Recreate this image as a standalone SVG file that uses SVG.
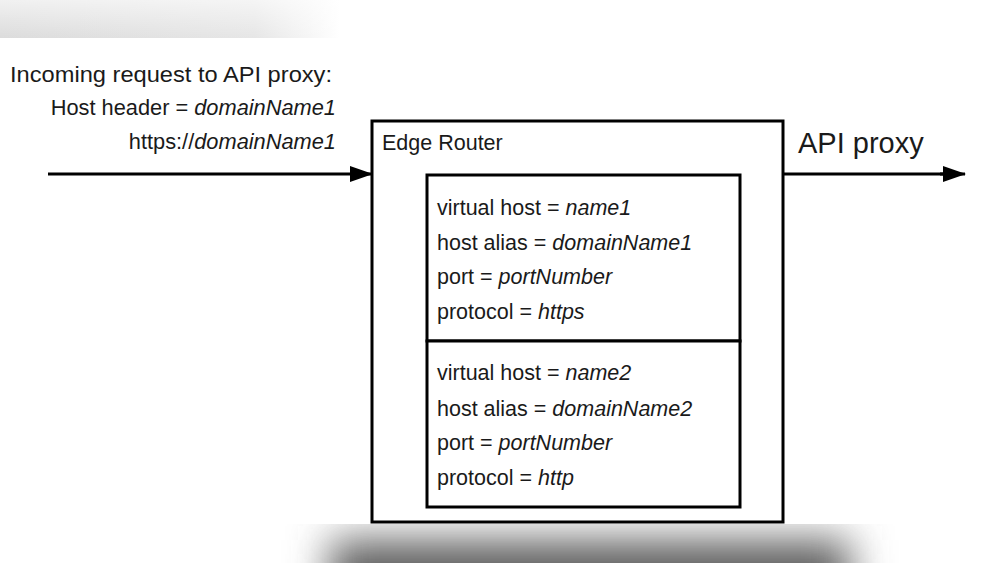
<svg xmlns="http://www.w3.org/2000/svg" width="1000" height="563" viewBox="0 0 1000 563">
<style>
.t{font-family:"Liberation Sans",Arial,sans-serif;font-size:21.5px;fill:#1a1a1a}
.i{font-style:italic}
.box{fill:#fff;stroke:#000;stroke-width:3}
.conn{stroke:#000;stroke-width:3;fill:none}
</style>
<defs>
<marker id="ah" markerWidth="23" markerHeight="16" refX="22" refY="8" orient="auto" markerUnits="userSpaceOnUse" viewBox="0 0 23 16">
<path d="M0,0 L23,8 L0,16 Z" fill="#000"/>
</marker>
<linearGradient id="tg" x1="0" y1="0" x2="1" y2="0">
<stop offset="0" stop-color="#dcdcdc"/>
<stop offset="0.75" stop-color="#e6e6e6"/>
<stop offset="1" stop-color="#fff"/>
</linearGradient>
<linearGradient id="tgv" x1="0" y1="0" x2="0" y2="1">
<stop offset="0" stop-color="#fff" stop-opacity="0.6"/>
<stop offset="1" stop-color="#fff" stop-opacity="0"/>
</linearGradient>
<filter id="bl" x="-20%" y="-50%" width="140%" height="200%">
<feGaussianBlur stdDeviation="20"/>
</filter>
<clipPath id="bc"><rect x="0" y="524" width="1000" height="39"/></clipPath>
</defs>
<rect width="1000" height="563" fill="#fff"/>
<g id="shadow-top">
<rect x="0" y="0" width="340" height="38" fill="url(#tg)"/>
<rect x="0" y="0" width="340" height="38" fill="url(#tgv)"/>
</g>
<g id="shadow-bottom" clip-path="url(#bc)">
<rect x="330" y="540" width="520" height="70" fill="#5e5e5e" filter="url(#bl)"/>
</g>
<g id="connectors">
<line class="conn" x1="48" y1="174" x2="360" y2="174"/>
<line class="conn" x1="355" y1="174" x2="372" y2="174" marker-end="url(#ah)"/>
<line class="conn" x1="783" y1="174" x2="945" y2="174"/>
<line class="conn" x1="940" y1="174" x2="965" y2="174" marker-end="url(#ah)"/>
</g>
<g id="incoming-label">
<text class="t" x="10" y="82" textLength="322" lengthAdjust="spacingAndGlyphs">Incoming request to API proxy:</text>
<text class="t" x="336" y="115" text-anchor="end" style="font-size:21.8px">Host header = <tspan class="i">domainName1</tspan></text>
<text class="t" x="336" y="149" text-anchor="end" style="font-size:21.8px">https://<tspan class="i">domainName1</tspan></text>
</g>
<g id="api-proxy-label">
<text class="t" x="798" y="153" style="font-size:29px">API proxy</text>
</g>
<g id="edge-router">
<rect class="box" x="372" y="121" width="411" height="401"/>
<text class="t" x="382" y="150">Edge Router</text>
</g>
<g id="vhost1">
<rect class="box" x="427" y="175" width="313" height="166"/>
<text class="t" x="437" y="215">virtual host = <tspan class="i">name1</tspan></text>
<text class="t" x="437" y="250">host alias = <tspan class="i">domainName1</tspan></text>
<text class="t" x="437" y="284">port = <tspan class="i">portNumber</tspan></text>
<text class="t" x="437" y="319">protocol = <tspan class="i">https</tspan></text>
</g>
<g id="vhost2">
<rect class="box" x="427" y="341" width="313" height="166"/>
<text class="t" x="437" y="380">virtual host = <tspan class="i">name2</tspan></text>
<text class="t" x="437" y="416">host alias = <tspan class="i">domainName2</tspan></text>
<text class="t" x="437" y="450">port = <tspan class="i">portNumber</tspan></text>
<text class="t" x="437" y="485">protocol = <tspan class="i">http</tspan></text>
</g>
</svg>
